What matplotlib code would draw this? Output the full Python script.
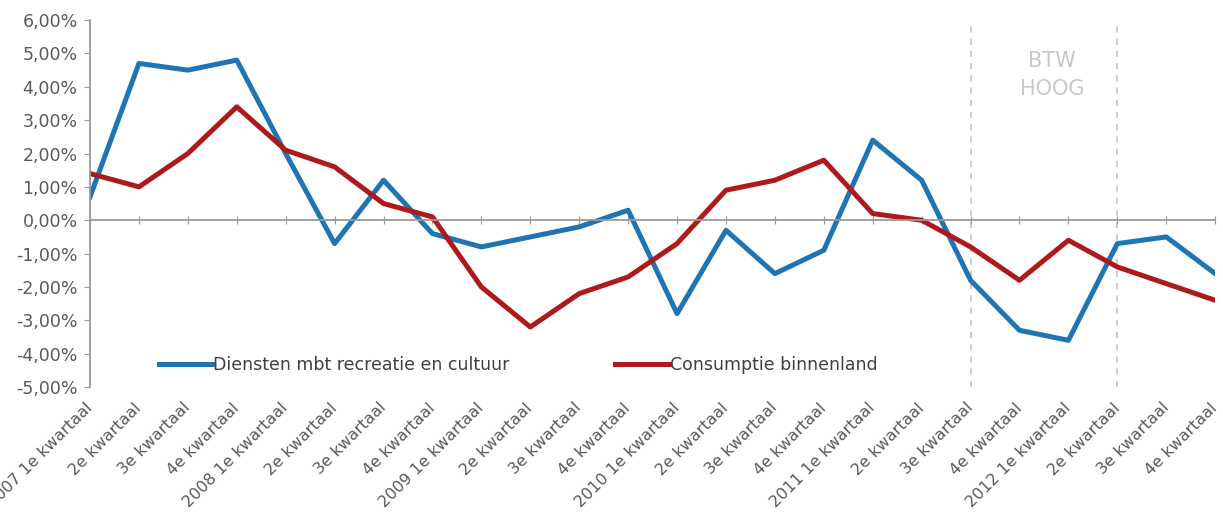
import numpy as np
import matplotlib.pyplot as plt
from matplotlib.ticker import FuncFormatter

# Kwartalen 2007 t/m 2012
kwartalen = [
    "2007 1e kwartaal", "2e kwartaal", "3e kwartaal", "4e kwartaal",
    "2008 1e kwartaal", "2e kwartaal", "3e kwartaal", "4e kwartaal",
    "2009 1e kwartaal", "2e kwartaal", "3e kwartaal", "4e kwartaal",
    "2010 1e kwartaal", "2e kwartaal", "3e kwartaal", "4e kwartaal",
    "2011 1e kwartaal", "2e kwartaal", "3e kwartaal", "4e kwartaal",
    "2012 1e kwartaal", "2e kwartaal", "3e kwartaal", "4e kwartaal",
]

# Procentuele groei
diensten = [0.7, 4.7, 4.5, 4.8, 2.0, -0.7, 1.2, -0.4,
            -0.8, -0.5, -0.2, 0.3, -2.8, -0.3, -1.6, -0.9,
            2.4, 1.2, -1.8, -3.3, -3.6, -0.7, -0.5, -1.6]
consumptie = [1.4, 1.0, 2.0, 3.4, 2.1, 1.6, 0.5, 0.1,
              -2.0, -3.2, -2.2, -1.7, -0.7, 0.9, 1.2, 1.8,
              0.2, 0.0, -0.8, -1.8, -0.6, -1.4, -1.9, -2.4]

# periode met hoog BTW-tarief (index van begin en eind)
btw_start, btw_eind = 18, 21


def main() -> None:
    fig = plt.figure(figsize=(12.23, 5.15), dpi=100)
    ax = fig.add_axes([0.0736, 0.2485, 0.92, 0.7125])

    x = np.arange(len(kwartalen))
    ax.plot(x, diensten, color='#1f74b3', lw=3.6, label='Diensten mbt recreatie en cultuur')
    ax.plot(x, consumptie, color='#ae1a1c', lw=3.6, label='Consumptie binnenland')

    # BTW-periode
    for xv in (btw_start, btw_eind):
        ax.axvline(xv, ymax=0.995, color='#bdbdbd', lw=1.1, ls=(0, (4, 4)), zorder=0)
    ax.text(btw_start + 1.67, 4.35, 'BTW\nHOOG', ha='center', va='center',
            fontsize=15, color='#c8c8c8', linespacing=1.5)

    ax.set_xlim(0, len(kwartalen) - 1)
    ax.set_ylim(-5, 6)
    ax.set_yticks(np.arange(-5, 7, 1))
    ax.yaxis.set_major_formatter(FuncFormatter(lambda v, p: f"{v:.2f}%".replace('.', ',')))
    ax.set_xticks(x)
    ax.set_xticklabels(kwartalen)

    # assen in Excel-stijl
    for s in ('top', 'right'):
        ax.spines[s].set_visible(False)
    ax.spines['bottom'].set_position(('data', 0))
    ax.spines['bottom'].set_color('#9a9a9a')
    ax.spines['bottom'].set_linewidth(1.3)
    ax.spines['left'].set_color('#9a9a9a')
    ax.spines['left'].set_linewidth(1.3)
    ax.tick_params(axis='y', colors='#9a9a9a', labelcolor='#595959', labelsize=12.5,
                   length=4, direction='out', pad=5)
    # x-labels onderaan de grafiek, niet bij de nullijn
    pad = (167 + 14) * 72 / fig.dpi
    ax.tick_params(axis='x', colors='#9a9a9a', labelcolor='#595959', labelsize=11.5,
                   length=6, direction='inout', pad=pad)
    plt.setp(ax.get_xticklabels(), rotation=45, ha='right', va='center',
             rotation_mode='anchor')

    ax.legend(loc='center left', bbox_to_anchor=(0.047, 0.06), ncol=2, frameon=False,
              fontsize=12.5, handlelength=3.1, handletextpad=0.05, columnspacing=6.1,
              labelcolor='#404040')

    fig.savefig('out.png', dpi=100)


if __name__ == '__main__':
    main()
